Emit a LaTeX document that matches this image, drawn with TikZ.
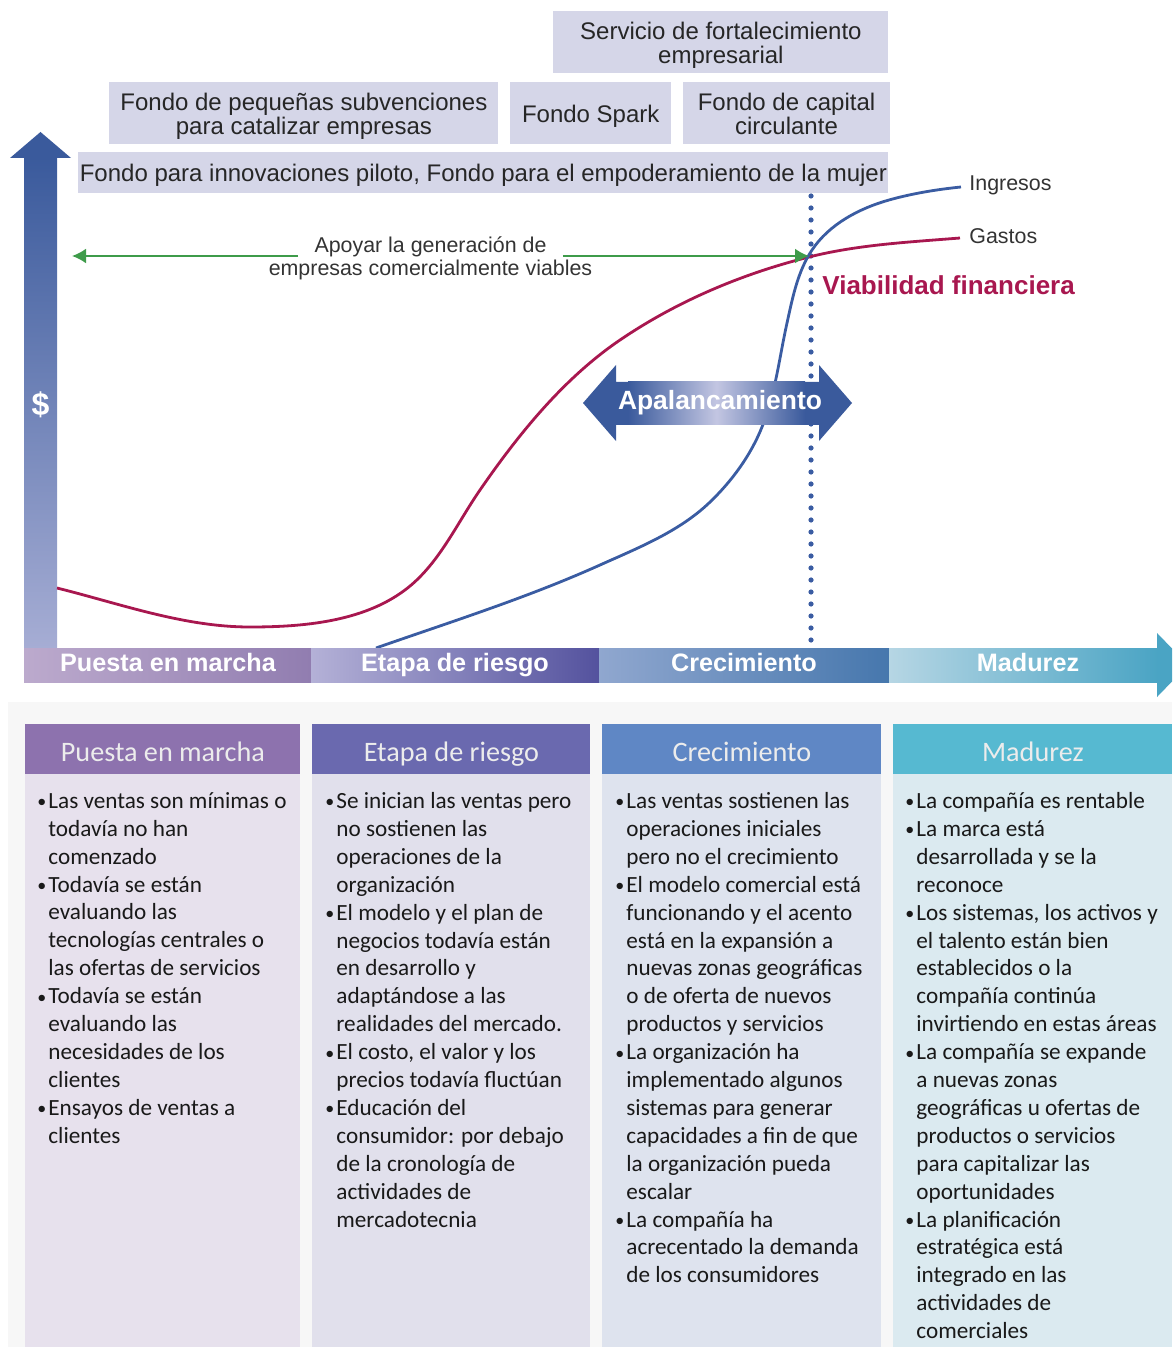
\documentclass[tikz,border=0pt]{standalone}
\usepackage{fontspec}
\setmainfont{Liberation Sans}
\newfontfamily\calfont{Carlito}
\usepackage{tikz}
\usetikzlibrary{positioning, arrows.meta}

\definecolor{fundbg}{HTML}{D5D6E8}
\definecolor{axisblue}{HTML}{3A5A9C}
\definecolor{axispale}{HTML}{A6ADD4}
\definecolor{gastoscol}{HTML}{A8174F}
\definecolor{ingresoscol}{HTML}{3A5CA2}
\definecolor{apoyocol}{HTML}{3E9B4A}
\definecolor{levlight}{HTML}{C3C6E2}
\definecolor{darktext}{HTML}{333333}
% stage bar: light end / dark end
\definecolor{marchaL}{HTML}{BCAACD}
\definecolor{marchaR}{HTML}{917DB0}
\definecolor{riesgoL}{HTML}{B4B1D7}
\definecolor{riesgoR}{HTML}{54529E}
\definecolor{crecL}{HTML}{90A7CF}
\definecolor{crecR}{HTML}{4677AD}
\definecolor{madL}{HTML}{B6D6E4}
\definecolor{madR}{HTML}{4AA4C4}
% table: header / body
\definecolor{marchaH}{HTML}{8D72AE}
\definecolor{marchaB}{HTML}{E7E1ED}
\definecolor{riesgoH}{HTML}{6A69AF}
\definecolor{riesgoB}{HTML}{E1E0EC}
\definecolor{crecH}{HTML}{5F87C5}
\definecolor{crecB}{HTML}{DEE3EE}
\definecolor{madH}{HTML}{56B9D1}
\definecolor{madB}{HTML}{DBEAF0}

\tikzstyle{fund} = [rectangle, fill=fundbg, inner sep=0pt, align=center,
text depth=0pt, text=black!85, font=\fontsize{12}{12}\selectfont]
\tikzstyle{stagelabel} = [text=white, text height=9pt, text depth=2.5pt,
font=\bfseries\fontsize{12.6}{14}\selectfont]
\tikzstyle{curvelabel} = [anchor=west, inner sep=0pt, text=darktext,
font=\fontsize{10.7}{12}\selectfont]
\tikzstyle{colhead} = [rectangle, anchor=north west, inner sep=0pt,
minimum width=138pt, minimum height=25pt, text=white!85!gray,
text height=14pt, text depth=2pt,
font=\calfont\fontsize{14.1}{16}\selectfont]
\tikzstyle{bodytext} = [anchor=north west, inner sep=0pt, align=left,
text=black!90, font=\calfont\fontsize{11.6}{13.95}\selectfont]
\tikzstyle{curve} = [line width=1.4pt]
\tikzstyle{arrow} = [line width=1pt, -{Latex[length=7pt,width=7.5pt]}]

\newcommand{\bitem}{\makebox[5.5pt][l]{\raisebox{0.3pt}{\fontsize{9}{9}\selectfont\textbullet}}}
\newcommand{\bcont}{\hspace*{5.5pt}}

\begin{document}
\begin{tikzpicture}[x=0.5pt, y=-0.5pt]
\useasboundingbox (0,0) rectangle (1172,1347);
\clip (0,0) rectangle (1172,1347);

% funds
\node (pequenas) [fund, anchor=north west, minimum width=194.5pt,
minimum height=31pt] at (109,82)
{Fondo de pequeñas subvenciones\\para catalizar empresas};
\node (spark) [fund, right=5.5pt of pequenas, minimum width=80.5pt,
minimum height=31pt] {Fondo Spark};
\node (capital) [fund, right=5.5pt of spark, minimum width=103.5pt,
minimum height=31pt] {Fondo de capital\\circulante};
\node (servicio) [fund, anchor=north west, minimum width=167.5pt,
minimum height=31pt] at (553,11)
{Servicio de fortalecimiento\\empresarial};
\node (piloto) [fund, anchor=north west, minimum width=405pt,
minimum height=20.5pt] at (78,152)
{Fondo para innovaciones piloto, Fondo para el empoderamiento de la mujer};

% $ axis
\shade[top color=axisblue, bottom color=axispale] (24,157) rectangle (57,648);
\fill[axisblue] (10,158) -- (40.5,132) -- (71,158) -- cycle;
\node (dollar) [text=white, font=\bfseries\fontsize{16}{16}\selectfont]
at (40.5,405) {\$};

% break-even line
\coordinate (vtop) at (811,196);
\coordinate (vbot) at (811,645);
\draw[ingresoscol, line width=2.6pt, line cap=round,
dash pattern=on 0pt off 6pt] (vtop) -- (vbot);

% curves
\draw[curve, gastoscol] (57,588) .. controls (121,604) and (184,627) ..
(250,627) .. controls (303,627) and (362.6,621.8) .. (405,590)
.. controls (438.6,564.8) and (456.1,524.6) .. (480,490)
.. controls (518.6,434) and (563.8,378.2) .. (620,340)
.. controls (677.1,301.2) and (742.1,273.8) .. (809,257)
.. controls (858.5,244.6) and (909.2,242.1) .. (960,238);
\draw[curve, ingresoscol] (376,648) .. controls (451.5,621.6) and (527,597.8) ..
(600,565) .. controls (638.3,547.8) and (678.5,531.9) .. (709,503)
.. controls (731.5,481.6) and (750.5,455.8) .. (762,427)
.. controls (775.4,393.6) and (779.2,358.1) .. (787,323)
.. controls (792.6,297.6) and (797.6,271.6) .. (812,250)
.. controls (829.2,224.2) and (859.1,208.4) .. (889,200)
.. controls (912.1,193.5) and (937.1,189.4) .. (961,187);
\node (ingresos) [curvelabel] at (969,185) {Ingresos};
\node (gastos) [curvelabel] at (969,236) {Gastos};
\node (viable) [anchor=west, inner sep=0pt, text=gastoscol,
font=\bfseries\fontsize{13}{14}\selectfont] at (822,285) {Viabilidad financiera};

% support arrow
\coordinate (lefttip) at (72,256);
\coordinate (breakeven) at (809,256);
\node (apoyo) [inner xsep=8pt, inner ysep=0pt, text=darktext,
font=\fontsize{10.7}{12}\selectfont] at (430.5,247) {Apoyar la generación de};
\node (apoyob) [below=1pt of apoyo, inner sep=0pt, text=darktext,
font=\fontsize{10.7}{12}\selectfont] {empresas comercialmente viables};
\draw[arrow, apoyocol] (apoyo.west |- breakeven) -- (lefttip);
\draw[arrow, apoyocol] (apoyo.east |- breakeven) -- (breakeven);

% leverage
\fill[axisblue] (583,403) -- (616,365) -- (616,382) -- (819,382) -- (819,365)
-- (852,403) -- (819,441) -- (819,425) -- (616,425) -- (616,441) -- cycle;
\shade[left color=axisblue, right color=axisblue, middle color=levlight]
(628,382) rectangle (805,425);
\node (lever) [text=white, font=\bfseries\fontsize{13.2}{14}\selectfont]
at (720,403) {Apalancamiento};

% stage bar
\shade[left color=marchaL, right color=marchaR] (24,648) rectangle (311,682);
\shade[left color=riesgoL, right color=riesgoR] (311,648) rectangle (599,682);
\shade[left color=crecL, right color=crecR] (599,648) rectangle (889,682);
\shade[left color=madL, right color=madR] (889,648) rectangle (1158,682);
\fill[madR] (1157,633) -- (1188,665) -- (1157,697) -- cycle;
\node (stageA) [stagelabel] at (168,665) {Puesta en marcha};
\node (stageB) [stagelabel] at (455,665) {Etapa de riesgo};
\node (stageC) [stagelabel] at (744,665) {Crecimiento};
\node (stageD) [stagelabel] at (1028,665) {Madurez};

% table
\fill[black!3] (8,702) rectangle (1172,1347);
\fill[marchaB] (25,774) rectangle (300,1347);
\fill[riesgoB] (312,774) rectangle (590,1347);
\fill[crecB] (602,774) rectangle (881,1347);
\fill[madB] (893,774) rectangle (1172,1347);
\node (headA) [colhead, fill=marchaH, minimum width=137.5pt] at (25,724) {Puesta en marcha};
\node (headB) [colhead, fill=riesgoH, minimum width=139pt] at (312,724) {Etapa de riesgo};
\node (headC) [colhead, fill=crecH, minimum width=139.5pt] at (602,724) {Crecimiento};
\node (headD) [colhead, fill=madH, minimum width=139.5pt] at (893,724) {Madurez};

\node (textA) [bodytext] at (37,792) {%
\bitem Las ventas son mínimas o\\\bcont todavía no han\\\bcont comenzado\\
\bitem Todavía se están\\\bcont evaluando las\\\bcont tecnologías centrales o\\
\bcont las ofertas de servicios\\
\bitem Todavía se están\\\bcont evaluando las\\\bcont necesidades de los\\
\bcont clientes\\
\bitem Ensayos de ventas a\\\bcont clientes};
\node (textB) [bodytext] at (325,792) {%
\bitem Se inician las ventas pero\\\bcont no sostienen las\\
\bcont operaciones de la\\\bcont organización\\
\bitem El modelo y el plan de\\\bcont negocios todavía están\\
\bcont en desarrollo y\\\bcont adaptándose a las\\\bcont realidades del mercado.\\
\bitem El costo, el valor y los\\\bcont precios todavía fluctúan\\
\bitem Educación del\\\bcont consumidor: por debajo\\\bcont de la cronología de\\
\bcont actividades de\\\bcont mercadotecnia};
\node (textC) [bodytext] at (615,792) {%
\bitem Las ventas sostienen las\\\bcont operaciones iniciales\\
\bcont pero no el crecimiento\\
\bitem El modelo comercial está\\\bcont funcionando y el acento\\
\bcont está en la expansión a\\\bcont nuevas zonas geográficas\\
\bcont o de oferta de nuevos\\\bcont productos y servicios\\
\bitem La organización ha\\\bcont implementado algunos\\
\bcont sistemas para generar\\\bcont capacidades a fin de que\\
\bcont la organización pueda\\\bcont escalar\\
\bitem La compañía ha\\\bcont acrecentado la demanda\\\bcont de los consumidores};
\node (textD) [bodytext] at (905,792) {%
\bitem La compañía es rentable\\
\bitem La marca está\\\bcont desarrollada y se la\\\bcont reconoce\\
\bitem Los sistemas, los activos y\\\bcont el talento están bien\\
\bcont establecidos o la\\\bcont compañía continúa\\\bcont invirtiendo en estas áreas\\
\bitem La compañía se expande\\\bcont a nuevas zonas\\
\bcont geográficas u ofertas de\\\bcont productos o servicios\\
\bcont para capitalizar las\\\bcont oportunidades\\
\bitem La planificación\\\bcont estratégica está\\\bcont integrado en las\\
\bcont actividades de\\\bcont comerciales};
\end{tikzpicture}
\end{document}
